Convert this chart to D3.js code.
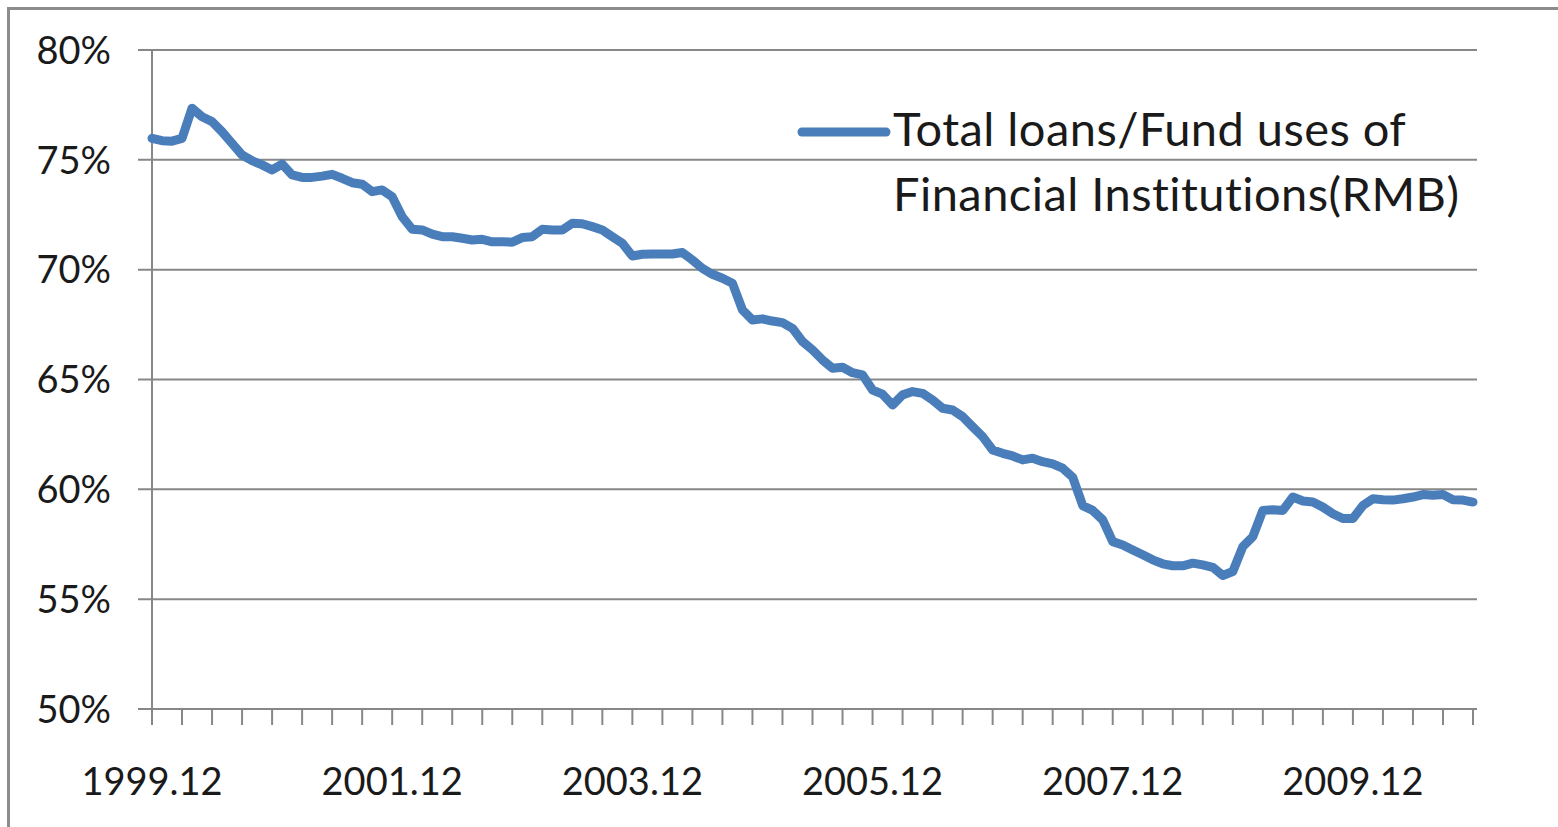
<!DOCTYPE html>
<html>
<head>
<meta charset="utf-8">
<script src="https://cdn.jsdelivr.net/npm/d3@7/dist/d3.min.js"></script>
<style>
  html, body { margin: 0; padding: 0; background: #fff; }
  svg { display: block; }
  text { font-family: Lato, "Open Sans", sans-serif; fill: #1a1a1a; font-variant-ligatures: none; }
</style>
</head>
<body>
<svg id="chart" width="1558" height="827"></svg>
<script>
// Monthly ratio of total loans to fund uses, Dec 1999 – Dec 2010 (percent)
const loanRatio = [
  75.98, 75.87, 75.85, 75.98, 77.35, 76.96, 76.74, 76.28, 75.75, 75.22, 74.96, 74.77,
  74.54, 74.81, 74.31, 74.20, 74.20, 74.26, 74.34, 74.16, 73.96, 73.89, 73.55, 73.63,
  73.32, 72.41, 71.84, 71.81, 71.62, 71.50, 71.50, 71.43, 71.35, 71.38, 71.27, 71.27,
  71.25, 71.46, 71.50, 71.84, 71.81, 71.81, 72.11, 72.09, 71.96, 71.81, 71.50, 71.20,
  70.62, 70.70, 70.71, 70.71, 70.71, 70.78, 70.44, 70.06, 69.79, 69.61, 69.38, 68.17,
  67.71, 67.76, 67.66, 67.59, 67.33, 66.73, 66.35, 65.89, 65.51, 65.56, 65.31, 65.21,
  64.52, 64.33, 63.84, 64.30, 64.45, 64.37, 64.07, 63.69, 63.61, 63.31, 62.85, 62.40,
  61.79, 61.64, 61.52, 61.34, 61.42, 61.26, 61.16, 60.96, 60.55, 59.26, 59.04, 58.61,
  57.62, 57.47, 57.24, 57.02, 56.79, 56.61, 56.52, 56.52, 56.64, 56.56, 56.45, 56.08,
  56.26, 57.39, 57.85, 59.04, 59.07, 59.04, 59.65, 59.47, 59.42, 59.19, 58.89, 58.67,
  58.67, 59.26, 59.57, 59.53, 59.51, 59.57, 59.65, 59.76, 59.73, 59.76, 59.53, 59.51,
  59.42
];

// Month categories "YYYY.MM"
const fmtMonth = d3.timeFormat("%Y.%m");
const months = d3.timeMonth.range(new Date(1999, 11, 1), new Date(2011, 0, 1)).map(fmtMonth);

const xTickLabels = ["1999.12", "2001.12", "2003.12", "2005.12", "2007.12", "2009.12"];
const yTicks = [50, 55, 60, 65, 70, 75, 80];
const seriesName = ["Total loans/Fund uses of", "Financial Institutions(RMB)"];

const svg = d3.select("#chart");
const gridColor = "#878787";
const lineColor = "#4A7EBB";

const x = d3.scalePoint().domain(months).range([152, 1473]);
const y = d3.scaleLinear().domain([50, 80]).range([709, 50]);

// outer chart frame
svg.append("rect")
  .attr("x", 8.5).attr("y", 8.5)
  .attr("width", 1600).attr("height", 900)
  .attr("fill", "none").attr("stroke", "#8c8c8c").attr("stroke-width", 3);

// horizontal gridlines with their outward tick stubs
svg.append("g").selectAll("line").data(yTicks).join("line")
  .attr("x1", 138).attr("x2", 1477)
  .attr("y1", d => y(d)).attr("y2", d => y(d))
  .attr("stroke", gridColor).attr("stroke-width", 2);

// y-axis labels
svg.append("g").selectAll("text").data(yTicks).join("text")
  .attr("x", 111).attr("y", d => y(d))
  .attr("dy", "0.36em")
  .attr("text-anchor", "end")
  .attr("font-size", 38)
  .text(d => d + "%");

// vertical axis line
svg.append("line")
  .attr("x1", x(months[0])).attr("x2", x(months[0]))
  .attr("y1", y(80)).attr("y2", y(50))
  .attr("stroke", gridColor).attr("stroke-width", 2);

// quarterly tick marks on the category axis
const tickMonths = months.filter((m, i) => i % 3 === 0);
svg.append("g").selectAll("line").data(tickMonths).join("line")
  .attr("x1", d => x(d)).attr("x2", d => x(d))
  .attr("y1", y(50)).attr("y2", y(50) + 16)
  .attr("stroke", gridColor).attr("stroke-width", 2);

// x-axis labels every two years
svg.append("g").selectAll("text").data(xTickLabels).join("text")
  .attr("x", d => x(d)).attr("y", 795)
  .attr("text-anchor", "middle")
  .attr("font-size", 38)
  .text(d => d);

// data line
const line = d3.line()
  .x((d, i) => x(months[i]))
  .y(d => y(d));

svg.append("path")
  .datum(loanRatio)
  .attr("d", line)
  .attr("fill", "none")
  .attr("stroke", lineColor)
  .attr("stroke-width", 9)
  .attr("stroke-linejoin", "round")
  .attr("stroke-linecap", "round");

// legend
const legend = svg.append("g");
legend.append("line")
  .attr("x1", 802).attr("x2", 886)
  .attr("y1", 132).attr("y2", 132)
  .attr("stroke", lineColor).attr("stroke-width", 9)
  .attr("stroke-linecap", "round");
legend.selectAll("text").data(seriesName).join("text")
  .attr("x", 893).attr("y", (d, i) => 146 + i * 65)
  .attr("font-size", 47)
  .attr("letter-spacing", 0.45)
  .text(d => d);
</script>
</body>
</html>
